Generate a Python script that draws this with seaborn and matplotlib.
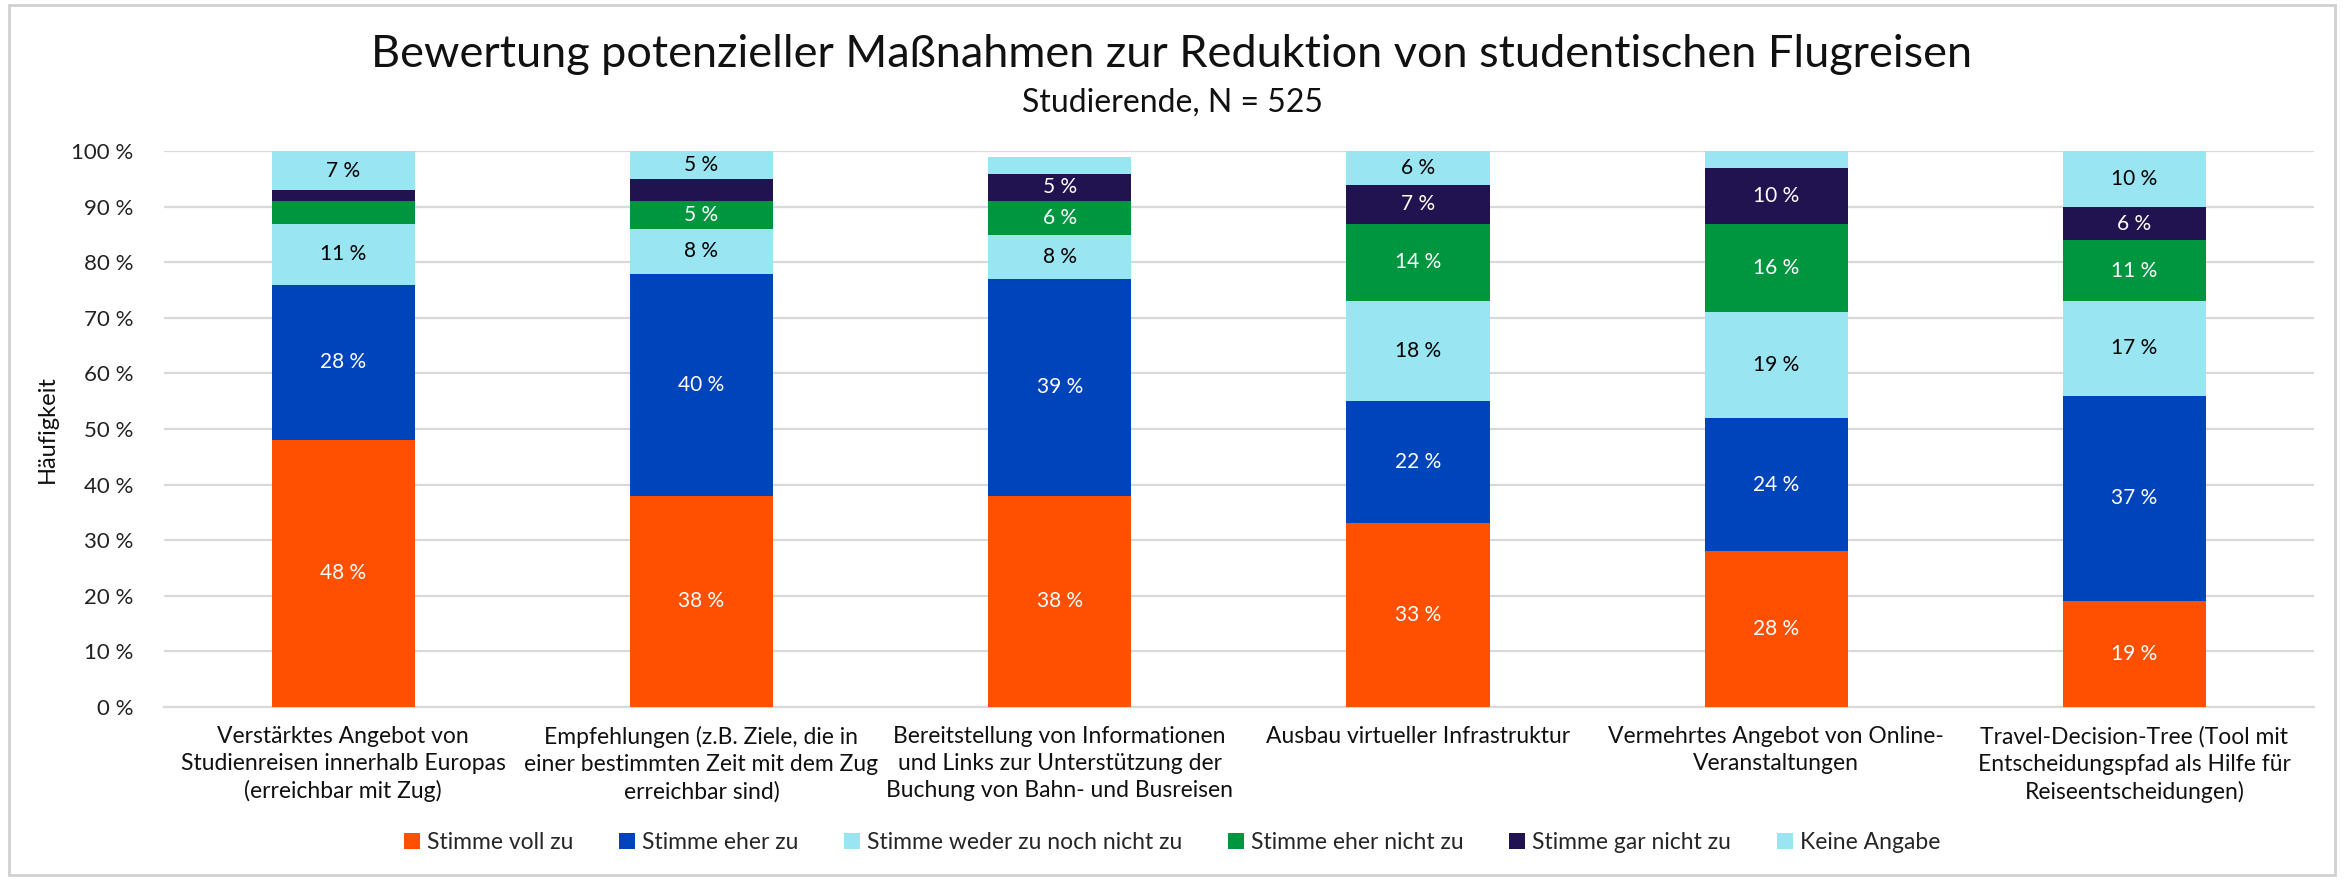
import numpy as np
import pandas as pd
import matplotlib
matplotlib.use("Agg")
import matplotlib.pyplot as plt
from matplotlib.patches import Rectangle, Patch
import seaborn as sns

# Survey answers per measure (percent of respondents)
categories = [
    "Verstärktes Angebot von\nStudienreisen innerhalb Europas\n(erreichbar mit Zug)",
    "Empfehlungen (z.B. Ziele, die in\neiner bestimmten Zeit mit dem Zug\nerreichbar sind)",
    "Bereitstellung von Informationen\nund Links zur Unterstützung der\nBuchung von Bahn- und Busreisen",
    "Ausbau virtueller Infrastruktur",
    "Vermehrtes Angebot von Online-\nVeranstaltungen",
    "Travel-Decision-Tree (Tool mit\nEntscheidungspfad als Hilfe für\nReiseentscheidungen)",
]
series_names = [
    "Stimme voll zu",
    "Stimme eher zu",
    "Stimme weder zu noch nicht zu",
    "Stimme eher nicht zu",
    "Stimme gar nicht zu",
    "Keine Angabe",
]
voll_zu = [48, 38, 38, 33, 28, 19]
eher_zu = [28, 40, 39, 22, 24, 37]
weder_noch = [11, 8, 8, 18, 19, 17]
eher_nicht = [4, 5, 6, 14, 16, 11]
gar_nicht = [2, 4, 5, 7, 10, 6]
keine_angabe = [7, 5, 3, 6, 3, 10]
y_ticks = [0, 10, 20, 30, 40, 50, 60, 70, 80, 90, 100]

colors = ["#FF4F00", "#0044BB", "#99E5F2", "#00963F", "#21134F", "#99E5F2"]
text_colors = ["white", "white", "black", "white", "white", "black"]

values = [voll_zu, eher_zu, weder_noch, eher_nicht, gar_nicht, keine_angabe]
df = pd.DataFrame({name: vals for name, vals in zip(series_names, values)})
df["Maßnahme"] = categories
cum = df[series_names].cumsum(axis=1)

sns.set_theme(style="white")
font = "Lato"
plt.rcParams["font.family"] = [font, "DejaVu Sans"]

fig = plt.figure(figsize=(23.44, 8.8), dpi=100)
ax = fig.add_axes([0.070, 0.197, 0.917, 0.631])

# Stacked bars: draw cumulative totals from the top layer down
for i in range(len(series_names) - 1, -1, -1):
    plot_df = pd.DataFrame({"Maßnahme": categories, "wert": cum[series_names[i]].values})
    sns.barplot(data=plot_df, x="Maßnahme", y="wert", color=colors[i],
                width=0.40, saturation=1, ax=ax, zorder=3, linewidth=0)

# Segment labels
for i, name in enumerate(series_names):
    tops = cum[name].values
    vals = df[name].values
    for j, (t, v) in enumerate(zip(tops, vals)):
        if v >= 5:
            ax.text(j, t - v / 2, f"{v} %", ha="center", va="center",
                    color=text_colors[i], fontsize=15, zorder=5)

ax.set_ylim(0, 100)
ax.set_xlim(-0.5, len(categories) - 0.5)
ax.set_yticks(y_ticks)
ax.set_yticklabels([f"{t} %" for t in y_ticks], fontsize=16, color="#222222")
ax.set_xticks(range(len(categories)))
ax.set_xticklabels(categories, fontsize=16.5, color="#111111", linespacing=1.35)
ax.tick_params(axis="x", length=0, pad=14)
ax.tick_params(axis="y", length=0, pad=22)
ax.set_xlabel("")
ax.set_ylabel("Häufigkeit", fontsize=17, color="#111111", labelpad=10)
ax.yaxis.grid(True, color="#D9D9D9", linewidth=1.6, zorder=0)
ax.set_axisbelow(True)
for s in ["top", "right", "left"]:
    ax.spines[s].set_visible(False)
ax.spines["bottom"].set_color("#D9D9D9")
ax.spines["bottom"].set_linewidth(1.6)

fig.text(0.5, 0.938, "Bewertung potenzieller Maßnahmen zur Reduktion von studentischen Flugreisen",
         ha="center", va="center", fontsize=32.5, color="#111111")
fig.text(0.5, 0.884, "Studierende, N = 525", ha="center", va="center",
         fontsize=23, color="#111111")

handles = [Patch(facecolor=c, edgecolor="none") for c in colors]
fig.legend(handles, series_names, loc="center", bbox_to_anchor=(0.5, 0.043),
           ncol=6, frameon=False, fontsize=16.5, handlelength=0.7, handleheight=0.7,
           handletextpad=0.3, columnspacing=2.0)

# Light frame around the chart
fig.patches.append(Rectangle((0.004, 0.006), 0.992, 0.988, transform=fig.transFigure,
                             fill=False, edgecolor="#D0D0D0", linewidth=2))

fig.savefig("out.png", dpi=100, facecolor="white")
